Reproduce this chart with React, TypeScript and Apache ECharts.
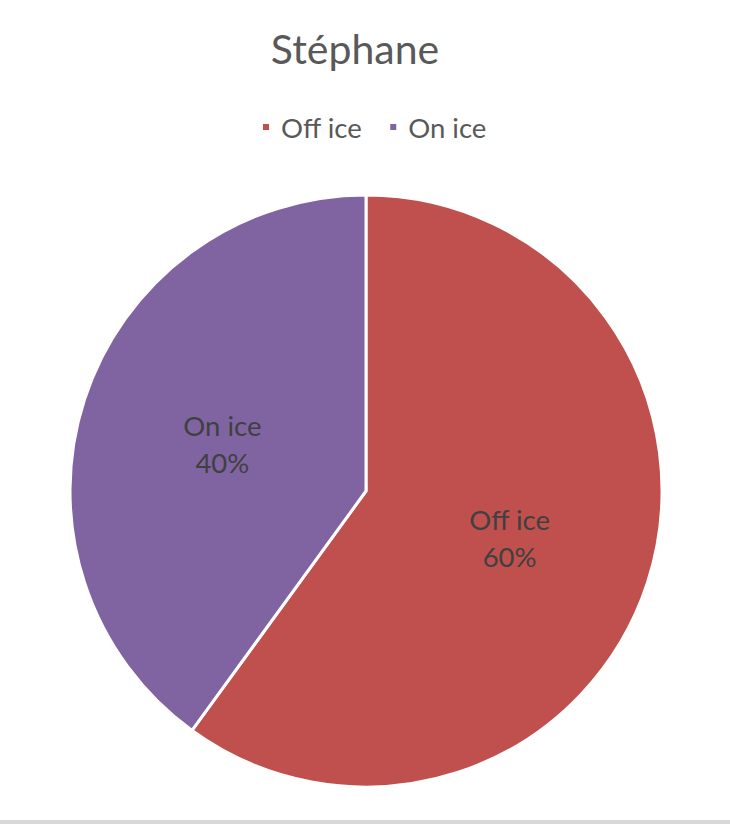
import React, { useEffect, useRef } from "react";
import * as echarts from "echarts";

const titleText = "Stéphane";
const categories = ["Off ice", "On ice"];
const values = [60, 40];
const colors = ["#C0504D", "#8064A2"];

export default function App() {
  const ref = useRef<HTMLDivElement>(null);
  useEffect(() => {
    if (!ref.current) return;
    const chart = echarts.init(ref.current, undefined, { renderer: "svg" });
    const font = "Lato, 'Noto Sans', sans-serif";
    chart.setOption({
      animation: false,
      backgroundColor: "#ffffff",
      title: {
        text: titleText,
        left: 355,
        textAlign: "center",
        top: 28,
        padding: 0,
        textStyle: { fontFamily: font, fontSize: 41, fontWeight: "normal", color: "#595959" },
      },
      legend: {
        data: categories,
        left: 261,
        top: 113,
        padding: 0,
        icon: "rect",
        itemWidth: 8,
        itemHeight: 8,
        itemGap: 26,
        textStyle: { fontFamily: font, fontSize: 27.5, color: "#595959", padding: [0, 0, 0, 6] },
      },
      series: [
        {
          type: "pie",
          center: [366, 491],
          radius: [0, 296],
          startAngle: 90,
          clockwise: true,
          color: colors,
          itemStyle: { borderColor: "#ffffff", borderWidth: 3 },
          label: {
            position: "inside",
            formatter: "{b}\n{d}%",
            fontFamily: font,
            fontSize: 27.5,
            lineHeight: 37,
            color: "#404040",
          },
          labelLine: { show: false },
          emphasis: { disabled: true },
          data: categories.map((c, i) => ({ name: c, value: values[i] })),
        },
      ],
      graphic: [
        {
          type: "rect",
          shape: { x: 0, y: 820, width: 730, height: 4 },
          style: { fill: "#d9d9d9" },
          silent: true,
        },
      ],
    });
    return () => chart.dispose();
  }, []);
  return (
    <div
      ref={ref}
      style={{ position: "fixed", left: 0, top: 0, width: 730, height: 824 }}
    />
  );
}
